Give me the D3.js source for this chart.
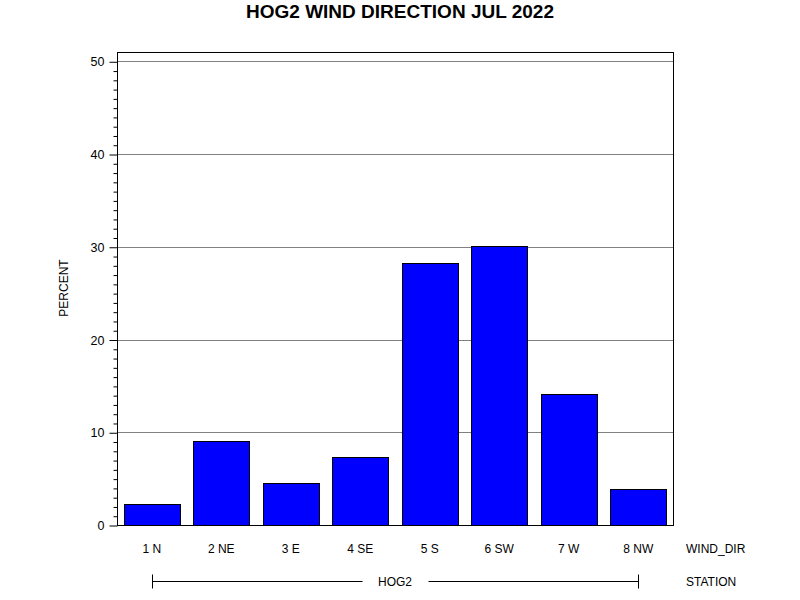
<!DOCTYPE html>
<html>
<head>
<meta charset="utf-8">
<script src="https://cdn.jsdelivr.net/npm/d3@7"></script>
<style>
  body { margin: 0; background: #fff; }
  text { font-family: "Liberation Sans", Arial, sans-serif; }
</style>
</head>
<body>
<div id="chart"></div>
<script>
var width = 800,
    height = 600;

var categories = ["1 N", "2 NE", "3 E", "4 SE", "5 S", "6 SW", "7 W", "8 NW"];
var percent = [2.3, 9.1, 4.5, 7.3, 28.2, 30.1, 14.1, 3.9];
var yTicks = [0, 10, 20, 30, 40, 50];
var station = "HOG2";

var plot = {left: 117, right: 673, top: 52, bottom: 525};

var svg = d3.select("#chart").append("svg")
    .attr("width", width)
    .attr("height", height);

var x = d3.scaleBand()
    .domain(categories)
    .range([plot.left, plot.right])
    .paddingInner(0.2)
    .paddingOuter(0.1);

var y = d3.scaleLinear()
    .domain([0, 51])
    .range([plot.bottom, plot.top]);

// title
svg.append("text")
    .attr("x", 400)
    .attr("y", 18)
    .attr("text-anchor", "middle")
    .attr("font-size", 17.5)
    .attr("font-weight", "bold")
    .attr("textLength", 308)
    .attr("lengthAdjust", "spacingAndGlyphs")
    .text("HOG2 WIND DIRECTION JUL 2022");

// grid lines
svg.selectAll(".grid")
    .data(yTicks.filter(function (d) { return d > 0; }))
    .enter()
    .append("line")
    .attr("x1", plot.left)
    .attr("x2", plot.right)
    .attr("y1", function (d) { return Math.round(y(d)) + 0.5; })
    .attr("y2", function (d) { return Math.round(y(d)) + 0.5; })
    .style("stroke", "#808080")
    .style("stroke-width", 1);

// bars
svg.selectAll(".bar")
    .data(percent)
    .enter()
    .append("rect")
    .attr("x", function (d, i) { return Math.round(x(categories[i])) + 0.5; })
    .attr("y", function (d) { return Math.round(y(d)) + 0.5; })
    .attr("width", Math.round(x.bandwidth()))
    .attr("height", function (d) { return Math.round(y(0)) - Math.round(y(d)); })
    .style("fill", "#0000ff")
    .style("stroke", "#000")
    .style("stroke-width", 1);

// frame
svg.append("rect")
    .attr("x", plot.left + 0.5)
    .attr("y", plot.top + 0.5)
    .attr("width", plot.right - plot.left)
    .attr("height", plot.bottom - plot.top)
    .style("fill", "none")
    .style("stroke", "#000")
    .style("stroke-width", 1);

// y axis: major ticks with labels, minor ticks every unit
var yAxis = d3.axisLeft(y)
    .tickValues(yTicks)
    .tickSize(8)
    .tickPadding(5)
    .tickFormat(d3.format("d"));

var yMinor = d3.axisLeft(y)
    .tickValues(d3.range(0, 51).filter(function (d) { return d % 10 !== 0; }))
    .tickSize(4)
    .tickFormat("");

var gMinor = svg.append("g")
    .attr("transform", "translate(" + (plot.left + 0.5) + ",0.5)")
    .call(yMinor);
gMinor.select(".domain").remove();

var gy = svg.append("g")
    .attr("transform", "translate(" + (plot.left + 0.5) + ",0.5)")
    .call(yAxis);
gy.select(".domain").remove();
gy.selectAll("text")
    .attr("font-size", 12.5)
    .style("font-family", "Liberation Sans, Arial, sans-serif");

// y label
svg.append("text")
    .attr("transform", "translate(68,288) rotate(-90)")
    .attr("text-anchor", "middle")
    .attr("font-size", 12)
    .text("PERCENT");

// category labels
svg.selectAll(".cat")
    .data(categories)
    .enter()
    .append("text")
    .attr("x", function (d) { return x(d) + x.bandwidth() / 2; })
    .attr("y", 553)
    .attr("text-anchor", "middle")
    .attr("font-size", 12)
    .text(function (d) { return d; });

svg.append("text")
    .attr("x", 686)
    .attr("y", 553)
    .attr("font-size", 12)
    .text("WIND_DIR");

// station bracket
var sx1 = x(categories[0]) + x.bandwidth() / 2,
    sx2 = x(categories[categories.length - 1]) + x.bandwidth() / 2,
    sy = 581.5;

svg.append("text")
    .attr("x", (sx1 + sx2) / 2)
    .attr("y", 586)
    .attr("text-anchor", "middle")
    .attr("font-size", 12)
    .text(station);

var gapHalf = 33;
[[sx1, (sx1 + sx2) / 2 - gapHalf], [(sx1 + sx2) / 2 + gapHalf, sx2]].forEach(function (seg) {
    svg.append("line")
        .attr("x1", Math.round(seg[0]) + 0.5).attr("x2", Math.round(seg[1]) + 0.5)
        .attr("y1", sy).attr("y2", sy)
        .style("stroke", "#000");
});
[sx1, sx2].forEach(function (px) {
    svg.append("line")
        .attr("x1", Math.round(px) + 0.5).attr("x2", Math.round(px) + 0.5)
        .attr("y1", sy - 7).attr("y2", sy + 7)
        .style("stroke", "#000");
});

svg.append("text")
    .attr("x", 686)
    .attr("y", 586)
    .attr("font-size", 12)
    .text("STATION");
</script>
</body>
</html>
